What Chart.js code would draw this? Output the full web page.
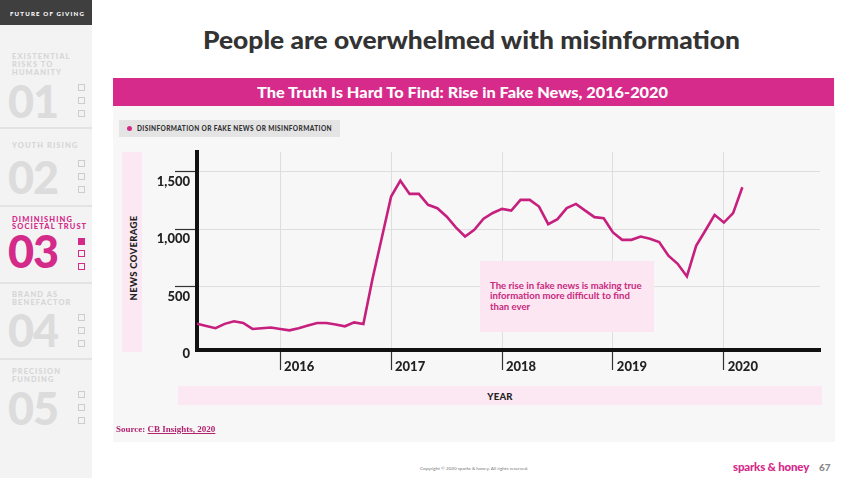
<!DOCTYPE html>
<html><head><meta charset="utf-8">
<script src="https://cdn.jsdelivr.net/npm/chart.js@4.4.1/dist/chart.umd.min.js"></script>
<style>
html,body{margin:0;padding:0;background:#fff;}
body{width:850px;height:478px;position:relative;overflow:hidden;font-family:Lato,"Open Sans",sans-serif;}
.a{position:absolute;white-space:nowrap;}
#side{left:0;top:0;width:92px;height:478px;background:#f3f3f3;}
#sidehead{left:0;top:0;width:92px;height:25px;background:#3f3f3f;}
#sidetext{top:9.5px;color:#fff;font-weight:900;font-size:6.2px;letter-spacing:1.2px;line-height:8px;transform-origin:0 50%;}
.sep{left:0;width:92px;height:2px;background:#e3e3e3;}
.sl{left:12px;font-size:7.5px;font-weight:900;letter-spacing:1.1px;color:#d6d6d6;line-height:8.3px;}
.num{left:8px;font-size:45px;font-weight:900;color:#dcdcdc;line-height:45px;letter-spacing:-1px;}
.sq{left:78px;width:5px;height:5px;border:1px solid #cdcdcd;}
.pink{color:#d42a8a !important;}
.sqp{border-color:#d42a8a;}
.fill{background:#d42a8a;width:7px;height:7px;border:none;}
#title{top:24px;font-size:25px;font-weight:900;color:#333;transform-origin:0 50%;}
#panel{left:113px;top:78px;width:722px;height:364px;background:#f7f7f7;}
#bar{left:113px;top:78px;width:721px;height:28px;background:#d62b8b;}
#bartext{top:83px;font-size:15px;font-weight:900;color:#fff;transform-origin:0 50%;}
#legend{left:119px;top:120px;width:221px;height:17px;background:#e4e4e4;}
#legdot{left:127px;top:126px;width:5px;height:5px;border-radius:50%;background:#d42a8a;}
#legtext{left:137px;top:124px;font-size:7px;font-weight:900;letter-spacing:0.4px;color:#333;line-height:9px;transform-origin:0 50%;}
#ybox{left:122px;top:152px;width:20px;height:200px;background:#fbe8f2;}
#ytitle{left:132.5px;top:258px;font-size:9.5px;font-weight:900;color:#222;transform:translate(-50%,-50%) rotate(-90deg);letter-spacing:0.3px;}
#xbox{left:178px;top:386px;width:644px;height:19px;background:#fbe8f2;}
#xtitle{left:500px;top:395.5px;font-size:9.5px;font-weight:900;color:#222;transform:translate(-50%,-50%);letter-spacing:0.2px;}
#note{left:480px;top:261px;width:174px;height:71px;background:#fbe6f1;}
#notetext{left:490px;top:280.5px;font-size:9.6px;font-weight:700;color:#c8287f;line-height:10.7px;white-space:normal;width:160px;}
#source{left:116px;top:424px;font-family:"Liberation Serif","Times New Roman",serif;font-weight:700;font-size:9px;color:#b0236f;}
#source u{text-decoration:underline;}
#copy{left:420px;top:465px;font-size:4.6px;color:#777;}
#brand{left:733px;top:460px;font-size:11.5px;font-weight:900;color:#d42a8a;letter-spacing:-0.2px;}
#page{left:819px;top:461px;font-size:10px;font-weight:900;color:#8a8a8a;}
#cv{position:absolute;left:113px;top:106px;}
</style></head>
<body>
<div class="a" id="side"></div>
<div class="a" id="sidehead"></div>
<div class="a" id="sidetext" data-l="10" data-w="75">FUTURE OF GIVING</div>

<div class="a sl" style="top:52.5px">EXISTENTIAL<br>RISKS TO<br>HUMANITY</div>
<div class="a num" style="top:79px">01</div>
<div class="a sq" style="top:84px"></div><div class="a sq" style="top:97px"></div><div class="a sq" style="top:110px"></div>
<div class="a sep" style="top:127px"></div>

<div class="a sl" style="top:141.5px">YOUTH RISING</div>
<div class="a num" style="top:155px">02</div>
<div class="a sq" style="top:160px"></div><div class="a sq" style="top:173px"></div><div class="a sq" style="top:186px"></div>
<div class="a sep" style="top:205px"></div>

<div class="a sl pink" style="top:215.7px;line-height:7.5px">DIMINISHING<br>SOCIETAL TRUST</div>
<div class="a num pink" style="top:229px">03</div>
<div class="a sq fill" style="top:237.5px"></div><div class="a sq sqp" style="top:250px"></div><div class="a sq sqp" style="top:263px"></div>
<div class="a sep" style="top:282px"></div>

<div class="a sl" style="top:290.8px">BRAND AS<br>BENEFACTOR</div>
<div class="a num" style="top:308px">04</div>
<div class="a sq" style="top:314px"></div><div class="a sq" style="top:327px"></div><div class="a sq" style="top:340px"></div>
<div class="a sep" style="top:357.5px"></div>

<div class="a sl" style="top:368px">PRECISION<br>FUNDING</div>
<div class="a num" style="top:386px">05</div>
<div class="a sq" style="top:391px"></div><div class="a sq" style="top:404px"></div><div class="a sq" style="top:417px"></div>

<div class="a" id="title" data-l="203" data-w="537">People are overwhelmed with misinformation</div>

<div class="a" id="panel"></div>
<div class="a" id="bar"></div>
<div class="a" id="bartext" data-l="257" data-w="411">The Truth Is Hard To Find: Rise in Fake News, 2016-2020</div>
<div class="a" id="legend"></div>
<div class="a" id="legdot"></div>
<div class="a" id="legtext" data-l="137" data-w="195">DISINFORMATION OR FAKE NEWS OR MISINFORMATION</div>
<div class="a" id="ybox"></div>
<div class="a" id="ytitle">NEWS COVERAGE</div>
<div class="a" id="xbox"></div>
<div class="a" id="xtitle">YEAR</div>

<canvas id="cv" width="722" height="336"></canvas>

<div class="a" id="note"></div>
<div class="a" id="notetext">The rise in fake news is making true information more difficult to find than ever</div>

<div class="a" id="source">Source: <u>CB Insights, 2020</u></div>
<div class="a" id="copy">Copyright © 2020 sparks &amp; honey. All rights reserved.</div>
<div class="a" id="brand">sparks &amp; honey</div>
<div class="a" id="page">67</div>

<script>
// ---- data ----
const months = [
  'Apr 2015','May 2015','Jun 2015','Jul 2015','Aug 2015','Sep 2015','Oct 2015','Nov 2015','Dec 2015',
  'Jan 2016','Feb 2016','Mar 2016','Apr 2016','May 2016','Jun 2016','Jul 2016','Aug 2016','Sep 2016','Oct 2016','Nov 2016','Dec 2016',
  'Jan 2017','Feb 2017','Mar 2017','Apr 2017','May 2017','Jun 2017','Jul 2017','Aug 2017','Sep 2017','Oct 2017','Nov 2017','Dec 2017',
  'Jan 2018','Feb 2018','Mar 2018','Apr 2018','May 2018','Jun 2018','Jul 2018','Aug 2018','Sep 2018','Oct 2018','Nov 2018','Dec 2018',
  'Jan 2019','Feb 2019','Mar 2019','Apr 2019','May 2019','Jun 2019','Jul 2019','Aug 2019','Sep 2019','Oct 2019','Nov 2019','Dec 2019',
  'Jan 2020','Feb 2020','Mar 2020'
];
const coverage = [
  179,159,139,177,199,185,133,139,145,
  133,121,139,162,185,184,172,156,190,175,574,927,
  1283,1421,1306,1306,1211,1182,1110,1015,936,994,1090,1140,
  1176,1161,1254,1254,1196,1043,1087,1182,1219,1161,1104,1094,
  971,907,907,936,916,887,769,699,589,855,988,1124,
  1057,1139,1364
];
const seriesName = 'Disinformation or fake news or misinformation';
const yearLabels = ['2016','2017','2018','2019','2020'];
const yTickValues = [0, 500, 1000, 1500];

// ---- text fitting ----
document.querySelectorAll('[data-w]').forEach(el => {
  const w = el.getBoundingClientRect().width;
  el.style.left = el.dataset.l + 'px';
  el.style.transform = 'scaleX(' + (el.dataset.w / w) + ')';
});

const yearPos = yearLabels.map(y => months.indexOf('Jan ' + y));

new Chart(document.getElementById('cv'), {
  type: 'line',
  data: {
    datasets: [{
      label: seriesName,
      data: coverage.map((v, i) => ({x: i, y: v})),
      borderColor: '#c61f7d',
      borderWidth: 2.6,
      pointRadius: 0,
      tension: 0,
      fill: false
    }]
  },
  options: {
    responsive: false,
    animation: false,
    devicePixelRatio: 1,
    layout: {padding: {top: 46, right: 15, left: 0, bottom: 0}},
    plugins: {legend: {display: false}, tooltip: {enabled: false}},
    scales: {
      x: {
        type: 'linear', min: 0, max: 67.4,
        afterBuildTicks: s => { s.ticks = yearPos.map(v => ({value: v})); },
        afterFit: s => { s.height = 92; },
        ticks: {
          autoSkip: false, maxRotation: 0,
          callback: (v) => yearLabels[yearPos.indexOf(v)],
          font: {family: 'Lato', weight: '900', size: 13},
          color: '#222', labelOffset: 19, padding: -11
        },
        grid: {color: '#dedede', lineWidth: 1, tickColor: '#333', tickLength: 20, tickWidth: 1.2},
        border: {display: true, color: '#111', width: 4}
      },
      y: {
        type: 'linear', min: -50, max: 1670,
        afterBuildTicks: s => { s.ticks = yTickValues.map(v => ({value: v})); },
        afterFit: s => { s.width = 84; },
        ticks: {
          callback: v => v.toLocaleString('en-US'),
          font: {family: 'Lato', weight: '900', size: 13},
          color: '#222', padding: -15, labelOffset: 10
        },
        grid: {
          color: c => (c.tick && c.tick.value === 0) ? 'rgba(0,0,0,0)' : '#dedede',
          tickColor: c => (c.tick && c.tick.value === 0) ? 'rgba(0,0,0,0)' : '#333',
          lineWidth: 1, tickLength: 22, tickWidth: 1.2
        },
        border: {display: true, color: '#111', width: 4}
      }
    }
  }
});
</script>
</body></html>
